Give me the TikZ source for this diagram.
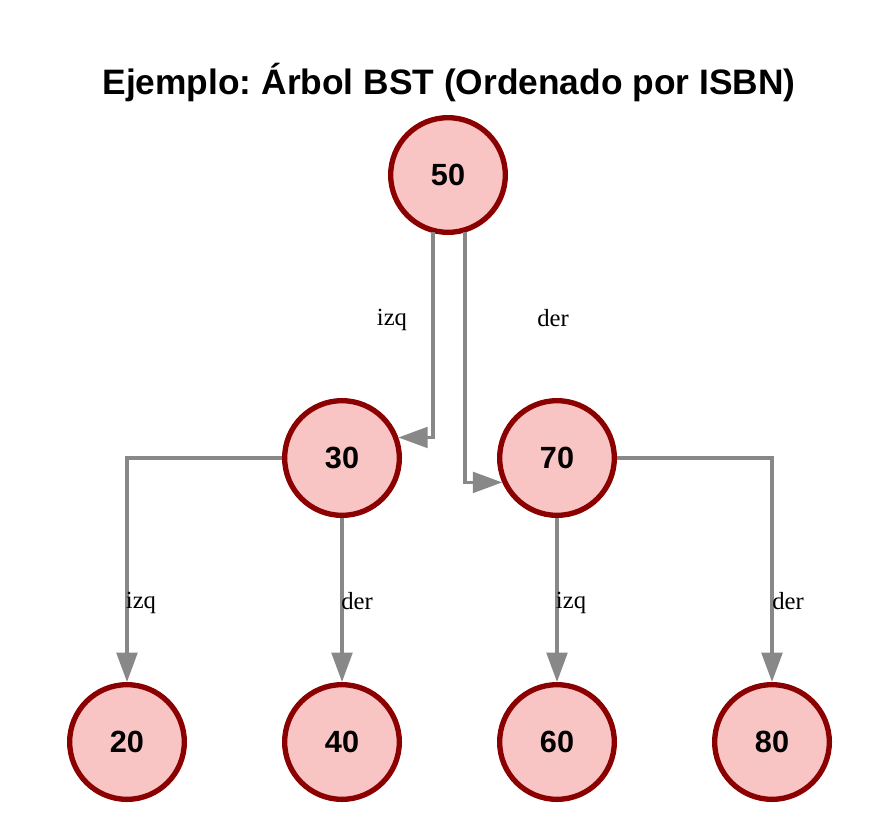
\documentclass[tikz,border=0pt]{standalone}
\usepackage{fontspec}
\setmainfont{Liberation Serif}
\newfontfamily\titlefont{Liberation Sans}
\usetikzlibrary{arrows.meta, calc}
\definecolor{nodefill}{HTML}{F8C4C4}
\definecolor{darkred}{HTML}{8B0000}
\definecolor{edgegray}{HTML}{888888}
\frenchspacing

\tikzset{
  bstnode/.style={circle, draw=darkred, fill=nodefill, line width=4pt,
    minimum size=86pt, inner sep=0pt, font=\titlefont\bfseries\fontsize{23}{26}\selectfont},
  bstedge/.style={draw=edgegray, line width=2.4pt,
    -{Triangle[length=22pt,width=15.5pt]}},
  sidelabel/.style={font=\fontsize{18.5}{21}\selectfont, inner sep=0pt}
}

\begin{document}
\begin{tikzpicture}[x=0.75pt, y=-0.75pt]
\useasboundingbox (0,0) rectangle (881,829);
% Title
\node[anchor=base, font=\titlefont\bfseries\fontsize{26.5}{30}\selectfont] (title) at (449,94)
  {Ejemplo: Árbol BST (Ordenado por ISBN)};

% Nodes
\node[bstnode] (n50) at (448,175) {50};
\node[bstnode] (n30) at (342,458) {30};
\node[bstnode] (n70) at (557,458) {70};
\node[bstnode] (n20) at (127,742) {20};
\node[bstnode] (n40) at (342,742) {40};
\node[bstnode] (n60) at (557,742) {60};
\node[bstnode] (n80) at (772,742) {80};

% Edges
\draw[bstedge] ($(n50.south)+(-15,-3)$) |- (n30.20);
\draw[bstedge] ($(n50.south)+(17,-3)$) |- (n70.204);
\draw[bstedge] (n30.west) -| (n20.north);
\draw[bstedge] (n30.south) -- (n40.north);
\draw[bstedge] (n70.south) -- (n60.north);
\draw[bstedge] (n70.east) -| (n80.north);

% Edge labels
\node[sidelabel] (l1) at (392,320) {izq};
\node[sidelabel] (l2) at (553,318) {der};
\node[sidelabel] (l3) at (141,603) {izq};
\node[sidelabel] (l4) at (357,601) {der};
\node[sidelabel] (l5) at (571,603) {izq};
\node[sidelabel] (l6) at (788,601) {der};
\end{tikzpicture}
\end{document}
